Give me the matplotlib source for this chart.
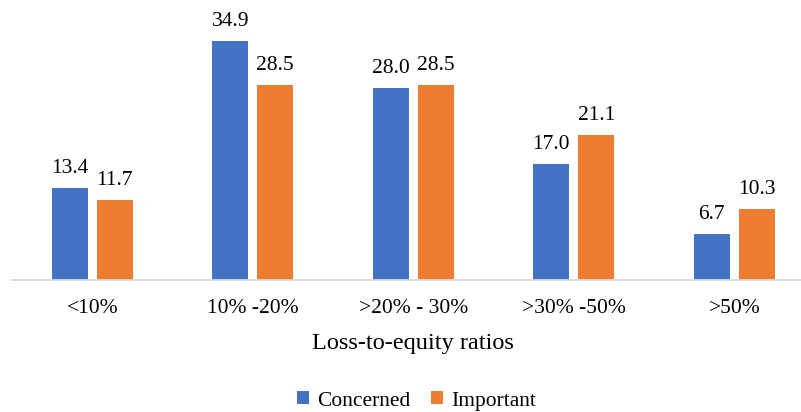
import matplotlib
matplotlib.use("Agg")
import matplotlib.pyplot as plt
import numpy as np

categories = ["<10%", "10% -20%", ">20% - 30%", ">30% -50%", ">50%"]
concerned = [13.4, 34.9, 28.0, 17.0, 6.7]
important = [11.7, 28.5, 28.5, 21.1, 10.3]

plt.rcParams["font.family"] = ["Liberation Serif", "DejaVu Serif"]

W, H = 801, 412
fig = plt.figure(figsize=(W / 100, H / 100), dpi=100)
# axes span: left 12px, baseline at 280px from top
ax = fig.add_axes([12 / W, (H - 280) / H, 802.5 / W, 274 / H])

x = np.arange(len(categories))
bw = 0.224
off = 0.14
blue = "#4472C4"
orange = "#ED7D31"
b1 = ax.bar(x - off, concerned, bw, color=blue, label="Concerned")
b2 = ax.bar(x + off, important, bw, color=orange, label="Important")

for bars, vals in ((b1, concerned), (b2, important)):
    for r, v in zip(bars, vals):
        ax.annotate(f"{v:.1f}", (r.get_x() + r.get_width() / 2, v),
                    xytext=(0, 10), textcoords="offset pixels",
                    ha="center", va="bottom", fontsize=15.5, color="#000000")

ax.set_xlim(-0.5, 4.5)
ax.set_ylim(0, 40)
ax.set_xticks(x)
ax.set_xticklabels(categories, fontsize=15.5)
ax.tick_params(axis="x", length=0, pad=14)
ax.set_yticks([])
for s in ("top", "right", "left"):
    ax.spines[s].set_visible(False)
ax.spines["bottom"].set_color("#D9D9D9")
ax.spines["bottom"].set_linewidth(1.3)

fig.text(413 / W, 1 - 343 / H, "Loss-to-equity ratios", ha="center", va="center", fontsize=17.5)

fig.legend(handles=[b1, b2], loc="center", bbox_to_anchor=(416.5 / W, 1 - 401 / H),
           ncol=2, frameon=False, fontsize=15.5, handlelength=0.55, handleheight=0.55,
           handletextpad=0.35, columnspacing=1.0, borderaxespad=0)

fig.savefig("out.png", dpi=100)
